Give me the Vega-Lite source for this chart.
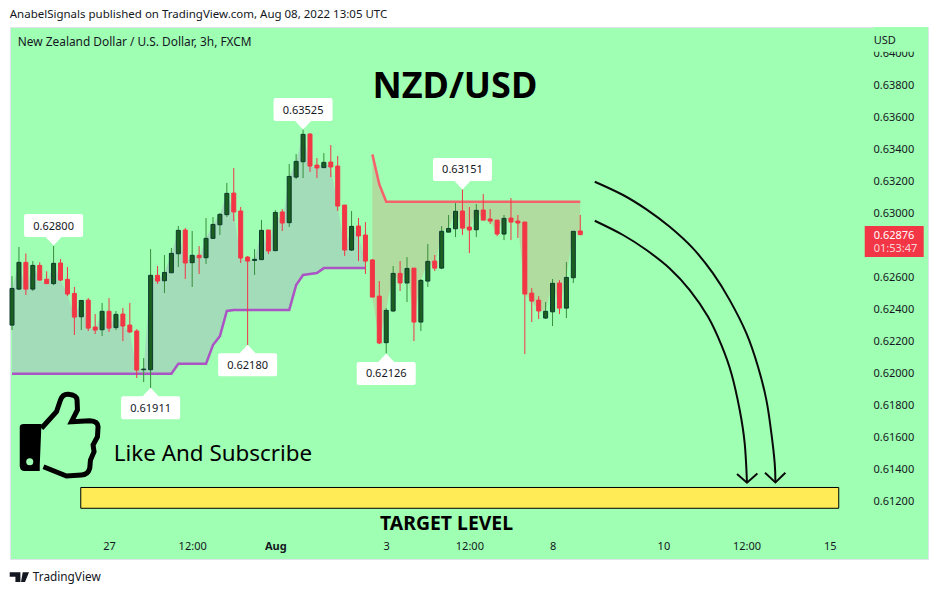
{"$schema":"https://vega.github.io/schema/vega-lite/v6.json","width":918,"height":532,"autosize":"none","padding":{"left":10,"top":27,"right":10,"bottom":36},"background":"#ffffff","view":{"fill":"#9fffb3","stroke":"#dfe3ea"},"config":{"axis":{"title":null},"text":{"font":"Noto Sans"}},
"datasets":{"candles":[
{"i":-14,"dir":"up","top":0.62532,"bot":0.62303,"high":0.62609,"low":0.62272,"close":0.62532,"sup":0.61999},
{"i":-13,"dir":"up","top":0.62695,"bot":0.62528,"high":0.62791,"low":0.62522,"close":0.62695,"sup":0.61999},
{"i":-12,"dir":"down","top":0.62695,"bot":0.62528,"high":0.62751,"low":0.62491,"close":0.62528,"sup":0.61999},
{"i":-11,"dir":"up","top":0.62676,"bot":0.62528,"high":0.62703,"low":0.62516,"close":0.62676,"sup":0.61999},
{"i":-10,"dir":"down","top":0.62676,"bot":0.62584,"high":0.62695,"low":0.62584,"close":0.62584,"sup":0.61999},
{"i":-9,"dir":"down","top":0.62589,"bot":0.62562,"high":0.62639,"low":0.62562,"close":0.62562,"sup":0.61999},
{"i":-8,"dir":"up","top":0.62689,"bot":0.62562,"high":0.62797,"low":0.62553,"close":0.62689,"sup":0.61999},
{"i":-7,"dir":"down","top":0.62691,"bot":0.62584,"high":0.62716,"low":0.62578,"close":0.62584,"sup":0.61999},
{"i":-6,"dir":"down","top":0.62589,"bot":0.62497,"high":0.62666,"low":0.62484,"close":0.62497,"sup":0.61999},
{"i":-5,"dir":"down","top":0.62501,"bot":0.62353,"high":0.62541,"low":0.62241,"close":0.62353,"sup":0.61999},
{"i":-4,"dir":"up","top":0.62457,"bot":0.62355,"high":0.62457,"low":0.62272,"close":0.62457,"sup":0.61999},
{"i":-3,"dir":"down","top":0.62459,"bot":0.62284,"high":0.62472,"low":0.62266,"close":0.62284,"sup":0.61999},
{"i":-2,"dir":"down","top":0.62291,"bot":0.62272,"high":0.62372,"low":0.62247,"close":0.62272,"sup":0.61999},
{"i":-1,"dir":"up","top":0.62389,"bot":0.62274,"high":0.62441,"low":0.62234,"close":0.62389,"sup":0.61999},
{"i":0,"dir":"down","top":0.62389,"bot":0.62284,"high":0.62472,"low":0.6226,"close":0.62284,"sup":0.61999},
{"i":1,"dir":"up","top":0.6237,"bot":0.62287,"high":0.62391,"low":0.62272,"close":0.6237,"sup":0.61999},
{"i":2,"dir":"down","top":0.62372,"bot":0.62297,"high":0.6241,"low":0.62203,"close":0.62297,"sup":0.61999},
{"i":3,"dir":"down","top":0.62303,"bot":0.6226,"high":0.62441,"low":0.62253,"close":0.6226,"sup":0.61999},
{"i":4,"dir":"down","top":0.62266,"bot":0.62022,"high":0.62278,"low":0.61972,"close":0.62022,"sup":0.61999},
{"i":5,"dir":"up","top":0.62028,"bot":0.62024,"high":0.62097,"low":0.61947,"close":0.62028,"sup":0.61999},
{"i":6,"dir":"up","top":0.62614,"bot":0.62024,"high":0.62778,"low":0.6191,"close":0.62614,"sup":0.61999},
{"i":7,"dir":"down","top":0.62614,"bot":0.62578,"high":0.62672,"low":0.6256,"close":0.62578,"sup":0.61999},
{"i":8,"dir":"up","top":0.62632,"bot":0.6258,"high":0.62741,"low":0.62503,"close":0.62632,"sup":0.61999},
{"i":9,"dir":"up","top":0.62751,"bot":0.6263,"high":0.62785,"low":0.6263,"close":0.62751,"sup":0.61999},
{"i":10,"dir":"up","top":0.62895,"bot":0.62749,"high":0.62922,"low":0.62666,"close":0.62895,"sup":0.62061},
{"i":11,"dir":"down","top":0.62897,"bot":0.62691,"high":0.6291,"low":0.62591,"close":0.62691,"sup":0.62061},
{"i":12,"dir":"up","top":0.62739,"bot":0.62693,"high":0.62891,"low":0.62541,"close":0.62739,"sup":0.62061},
{"i":13,"dir":"down","top":0.62739,"bot":0.62724,"high":0.62797,"low":0.62622,"close":0.62724,"sup":0.62061},
{"i":14,"dir":"up","top":0.62845,"bot":0.62724,"high":0.62972,"low":0.62685,"close":0.62845,"sup":0.62061},
{"i":15,"dir":"up","top":0.62932,"bot":0.62845,"high":0.62978,"low":0.62841,"close":0.62932,"sup":0.62178},
{"i":16,"dir":"up","top":0.62995,"bot":0.6293,"high":0.63003,"low":0.62866,"close":0.62995,"sup":0.62234},
{"i":17,"dir":"up","top":0.63126,"bot":0.62993,"high":0.63191,"low":0.62978,"close":0.63126,"sup":0.62391},
{"i":18,"dir":"down","top":0.63128,"bot":0.6301,"high":0.63285,"low":0.62953,"close":0.6301,"sup":0.62397},
{"i":19,"dir":"down","top":0.63016,"bot":0.62722,"high":0.63041,"low":0.62691,"close":0.62722,"sup":0.62397},
{"i":20,"dir":"down","top":0.62728,"bot":0.62703,"high":0.62735,"low":0.62178,"close":0.62703,"sup":0.62397},
{"i":21,"dir":"up","top":0.62714,"bot":0.62707,"high":0.62778,"low":0.62616,"close":0.62714,"sup":0.62397},
{"i":22,"dir":"up","top":0.62895,"bot":0.62712,"high":0.6296,"low":0.6271,"close":0.62895,"sup":0.62397},
{"i":23,"dir":"down","top":0.62897,"bot":0.62766,"high":0.62897,"low":0.62747,"close":0.62766,"sup":0.62397},
{"i":24,"dir":"up","top":0.63007,"bot":0.62768,"high":0.63022,"low":0.62766,"close":0.63007,"sup":0.62397},
{"i":25,"dir":"down","top":0.6301,"bot":0.62941,"high":0.63028,"low":0.62891,"close":0.62941,"sup":0.62397},
{"i":26,"dir":"up","top":0.63232,"bot":0.62943,"high":0.6331,"low":0.62916,"close":0.63232,"sup":0.62397},
{"i":27,"dir":"up","top":0.63326,"bot":0.63228,"high":0.63372,"low":0.63216,"close":0.63326,"sup":0.62553},
{"i":28,"dir":"up","top":0.63495,"bot":0.63324,"high":0.63525,"low":0.63222,"close":0.63495,"sup":0.62616},
{"i":29,"dir":"down","top":0.63497,"bot":0.63297,"high":0.63503,"low":0.6326,"close":0.63297,"sup":0.62622},
{"i":30,"dir":"down","top":0.63303,"bot":0.63285,"high":0.63347,"low":0.63222,"close":0.63285,"sup":0.62628},
{"i":31,"dir":"up","top":0.6332,"bot":0.63287,"high":0.63378,"low":0.63285,"close":0.6332,"sup":0.62659},
{"i":32,"dir":"down","top":0.63322,"bot":0.63291,"high":0.63428,"low":0.63228,"close":0.63291,"sup":0.62659},
{"i":33,"dir":"down","top":0.63297,"bot":0.63047,"high":0.6336,"low":0.63016,"close":0.63047,"sup":0.62659},
{"i":34,"dir":"down","top":0.63053,"bot":0.62772,"high":0.63053,"low":0.62735,"close":0.62772,"sup":0.62659},
{"i":35,"dir":"up","top":0.6292,"bot":0.62772,"high":0.63016,"low":0.62766,"close":0.6292,"sup":0.62659},
{"i":36,"dir":"down","top":0.62922,"bot":0.6286,"high":0.62972,"low":0.62703,"close":0.6286,"sup":0.62659},
{"i":37,"dir":"down","top":0.62866,"bot":0.62703,"high":0.62947,"low":0.62622,"close":0.62703,"sup":0.62659},
{"i":38,"dir":"down","top":0.6271,"bot":0.62478,"high":0.62716,"low":0.62478,"close":0.62478,"res":0.6337},
{"i":39,"dir":"down","top":0.62484,"bot":0.62191,"high":0.62578,"low":0.62184,"close":0.62191,"res":0.63183},
{"i":40,"dir":"up","top":0.62395,"bot":0.62193,"high":0.62409,"low":0.62126,"close":0.62395,"res":0.63074},
{"i":41,"dir":"up","top":0.62626,"bot":0.62391,"high":0.62672,"low":0.62384,"close":0.62626,"res":0.63074},
{"i":42,"dir":"down","top":0.62626,"bot":0.62566,"high":0.62703,"low":0.62516,"close":0.62566,"res":0.63074},
{"i":43,"dir":"up","top":0.62657,"bot":0.62566,"high":0.62728,"low":0.62447,"close":0.62657,"res":0.63074},
{"i":44,"dir":"down","top":0.62659,"bot":0.62322,"high":0.62659,"low":0.62203,"close":0.62322,"res":0.63074},
{"i":45,"dir":"up","top":0.62582,"bot":0.62322,"high":0.62591,"low":0.62266,"close":0.62582,"res":0.63074},
{"i":46,"dir":"up","top":0.62701,"bot":0.62578,"high":0.62809,"low":0.62541,"close":0.62701,"res":0.63074},
{"i":47,"dir":"down","top":0.62703,"bot":0.62659,"high":0.62741,"low":0.62641,"close":0.62659,"res":0.63074},
{"i":48,"dir":"up","top":0.62889,"bot":0.62659,"high":0.62922,"low":0.62653,"close":0.62889,"res":0.63074},
{"i":49,"dir":"up","top":0.62907,"bot":0.62884,"high":0.62991,"low":0.62884,"close":0.62907,"res":0.63074},
{"i":50,"dir":"up","top":0.63014,"bot":0.62905,"high":0.63066,"low":0.62853,"close":0.63014,"res":0.63074},
{"i":51,"dir":"down","top":0.63016,"bot":0.62909,"high":0.63151,"low":0.62866,"close":0.62909,"res":0.63074},
{"i":52,"dir":"down","top":0.62916,"bot":0.62897,"high":0.63041,"low":0.62753,"close":0.62897,"res":0.63074},
{"i":53,"dir":"up","top":0.6302,"bot":0.62899,"high":0.63059,"low":0.62853,"close":0.6302,"res":0.63074},
{"i":54,"dir":"down","top":0.63022,"bot":0.62959,"high":0.63122,"low":0.62959,"close":0.62959,"res":0.63074},
{"i":55,"dir":"down","top":0.62966,"bot":0.62953,"high":0.63028,"low":0.62934,"close":0.62953,"res":0.63074},
{"i":56,"dir":"down","top":0.62959,"bot":0.62872,"high":0.62959,"low":0.62859,"close":0.62872,"res":0.63074},
{"i":57,"dir":"up","top":0.6297,"bot":0.62872,"high":0.62991,"low":0.62834,"close":0.6297,"res":0.63074},
{"i":58,"dir":"down","top":0.62972,"bot":0.62947,"high":0.63097,"low":0.62834,"close":0.62947,"res":0.63074},
{"i":59,"dir":"down","top":0.62953,"bot":0.62941,"high":0.62991,"low":0.62847,"close":0.62941,"res":0.63074},
{"i":60,"dir":"down","top":0.62947,"bot":0.62497,"high":0.62947,"low":0.62122,"close":0.62497,"res":0.63074},
{"i":61,"dir":"down","top":0.62503,"bot":0.62453,"high":0.62534,"low":0.62322,"close":0.62453,"res":0.63074},
{"i":62,"dir":"down","top":0.62459,"bot":0.62391,"high":0.62484,"low":0.62341,"close":0.62391,"res":0.63074},
{"i":63,"dir":"up","top":0.62389,"bot":0.62347,"high":0.62447,"low":0.62341,"close":0.62389,"res":0.63074},
{"i":64,"dir":"up","top":0.62564,"bot":0.62386,"high":0.62591,"low":0.62297,"close":0.62564,"res":0.63074},
{"i":65,"dir":"down","top":0.62566,"bot":0.62409,"high":0.62584,"low":0.62372,"close":0.62409,"res":0.63074},
{"i":66,"dir":"up","top":0.62601,"bot":0.62409,"high":0.62697,"low":0.62347,"close":0.62601,"res":0.63074},
{"i":67,"dir":"up","top":0.62889,"bot":0.62599,"high":0.62889,"low":0.62566,"close":0.62889,"res":0.63074},
{"i":68,"dir":"down","top":0.62891,"bot":0.62868,"high":0.62991,"low":0.62868,"close":0.62876,"res":0.63074}],
"callouts":[
{"i":-8,"p":0.628,"label":"0.62800","side":"above"},
{"i":28,"p":0.63525,"label":"0.63525","side":"above"},
{"i":51,"p":0.63151,"label":"0.63151","side":"above"},
{"i":6,"p":0.61911,"label":"0.61911","side":"below"},
{"i":20,"p":0.6218,"label":"0.62180","side":"below"},
{"i":40,"p":0.62126,"label":"0.62126","side":"below"}],
"arrows":[
{"g":"a","n":0,"i":70.09,"p":0.63199},{"g":"a","n":1,"i":74.17,"p":0.63116},{"g":"a","n":2,"i":77.55,"p":0.63026},{"g":"a","n":3,"i":80.91,"p":0.62917},{"g":"a","n":4,"i":84.27,"p":0.62782},{"g":"a","n":5,"i":87.16,"p":0.62626},{"g":"a","n":6,"i":89.57,"p":0.62459},{"g":"a","n":7,"i":91.98,"p":0.62251},{"g":"a","n":8,"i":93.65,"p":0.62043},{"g":"a","n":9,"i":94.86,"p":0.61834},{"g":"a","n":10,"i":95.58,"p":0.61626},{"g":"a","n":11,"i":96.06,"p":0.61439},{"g":"a","n":12,"i":96.16,"p":0.6132},
{"g":"b","n":0,"i":70.09,"p":0.62955},{"g":"b","n":1,"i":74.17,"p":0.62866},{"g":"b","n":2,"i":77.55,"p":0.62772},{"g":"b","n":3,"i":80.91,"p":0.62657},{"g":"b","n":4,"i":83.8,"p":0.62522},{"g":"b","n":5,"i":86.44,"p":0.62355},{"g":"b","n":6,"i":88.37,"p":0.62178},{"g":"b","n":7,"i":89.81,"p":0.62001},{"g":"b","n":8,"i":91.01,"p":0.61772},{"g":"b","n":9,"i":91.73,"p":0.61564},{"g":"b","n":10,"i":92.06,"p":0.61318}],
"heads":[
{"g":"a","n":0,"i":94.66,"p":0.6138},{"g":"a","n":1,"i":96.16,"p":0.6132},{"g":"a","n":2,"i":97.6,"p":0.6138},
{"g":"b","n":0,"i":90.62,"p":0.61372},{"g":"b","n":1,"i":92.06,"p":0.61318},{"g":"b","n":2,"i":93.56,"p":0.61376}]},
"encoding":{
"x":{"field":"i","type":"quantitative","scale":{"domain":[-14.29,118.18],"nice":false,"zero":false,"padding":0},"axis":{"orient":"bottom","values":[0,12,24,40,52,64,80,92,104],"labelExpr":"['27','12:00','Aug','3','12:00','8','10','12:00','15'][indexof([0,12,24,40,52,64,80,92,104],datum.value)]","labelFontWeight":{"condition":{"test":"datum.value==24","value":"bold"},"value":"normal"},"domain":false,"ticks":false,"grid":false,"offset":-19,"labelPadding":0,"labelFont":"Noto Sans","labelFontSize":11,"labelColor":"#131722"}},
"y":{"field":"p","type":"quantitative","scale":{"domain":[0.60841,0.64166],"nice":false,"zero":false},"axis":{"orient":"right","values":[0.612,0.614,0.616,0.618,0.62,0.622,0.624,0.626,0.63,0.632,0.634,0.636,0.638,0.64],"format":".5f","domain":false,"ticks":false,"grid":false,"offset":-55,"labelPadding":0,"labelFont":"Noto Sans","labelFontSize":11,"labelColor":"#131722"}}},
"layer":[
{"data":{"name":"candles"},"transform":[{"filter":"isValid(datum.sup)"}],"mark":{"type":"area","fill":"#a3dcb9","opacity":1},"encoding":{"y":{"field":"close","type":"quantitative","scale":{"domain":[0.60841,0.64166],"nice":false,"zero":false}},"y2":{"field":"sup"}}},
{"data":{"name":"candles"},"transform":[{"filter":"isValid(datum.res)"}],"mark":{"type":"area","fill":"#b0dd9f","opacity":1},"encoding":{"y":{"field":"close","type":"quantitative","scale":{"domain":[0.60841,0.64166],"nice":false,"zero":false}},"y2":{"field":"res"}}},
{"data":{"name":"candles"},"transform":[{"filter":"isValid(datum.sup)"}],"mark":{"type":"line","stroke":"#ab55c4","strokeWidth":2.5},"encoding":{"y":{"field":"sup","type":"quantitative","scale":{"domain":[0.60841,0.64166],"nice":false,"zero":false}}}},
{"data":{"name":"candles"},"transform":[{"filter":"isValid(datum.res)"}],"mark":{"type":"line","stroke":"#f5626c","strokeWidth":2.5},"encoding":{"y":{"field":"res","type":"quantitative","scale":{"domain":[0.60841,0.64166],"nice":false,"zero":false}}}},
{"data":{"name":"candles"},"mark":{"type":"rule","strokeWidth":1},"encoding":{"y":{"field":"high","type":"quantitative","scale":{"domain":[0.60841,0.64166],"nice":false,"zero":false}},"y2":{"field":"low"},"color":{"field":"dir","type":"nominal","scale":{"domain":["up","down"],"range":["#388e3c","#f23645"]},"legend":null}}},
{"data":{"name":"candles"},"mark":{"type":"bar","size":4,"strokeWidth":1,"orient":"vertical"},"encoding":{"y":{"field":"top","type":"quantitative","scale":{"domain":[0.60841,0.64166],"nice":false,"zero":false}},"y2":{"field":"bot"},"fill":{"field":"dir","type":"nominal","scale":{"domain":["up","down"],"range":["#1b5e20","#f23645"]},"legend":null},"stroke":{"field":"dir","type":"nominal","scale":{"domain":["up","down"],"range":["#0c3b2e","#f23645"]},"legend":null}}},
{"data":{"name":"callouts"},"transform":[{"filter":"datum.side=='above'"}],"mark":{"type":"point","filled":true,"fill":"#ffffff","opacity":1,"size":4,"shape":"M0,0 L-8,-8.5 H-27.5 Q-29.5,-8.5 -29.5,-10.5 V-29.5 Q-29.5,-31.5 -27.5,-31.5 H27.5 Q29.5,-31.5 29.5,-29.5 V-10.5 Q29.5,-8.5 27.5,-8.5 H8 Z"}},
{"data":{"name":"callouts"},"transform":[{"filter":"datum.side=='below'"}],"mark":{"type":"point","filled":true,"fill":"#ffffff","opacity":1,"size":4,"shape":"M0,0 L8,8.5 H27.5 Q29.5,8.5 29.5,10.5 V29.5 Q29.5,31.5 27.5,31.5 H-27.5 Q-29.5,31.5 -29.5,29.5 V10.5 Q-29.5,8.5 -27.5,8.5 H-8 Z"}},
{"data":{"name":"callouts"},"transform":[{"filter":"datum.side=='above'"}],"mark":{"type":"text","dy":-19,"fontSize":11,"fill":"#131722"},"encoding":{"text":{"field":"label"}}},
{"data":{"name":"callouts"},"transform":[{"filter":"datum.side=='below'"}],"mark":{"type":"text","dy":21,"fontSize":11,"fill":"#131722"},"encoding":{"text":{"field":"label"}}},
{"data":{"values":[{"i":-4.08,"i2":105.3,"p":0.61288,"p2":0.61158}]},"mark":{"type":"rect","fill":"#ffeb56","stroke":"#000000","strokeWidth":1},"encoding":{"x2":{"field":"i2"},"y2":{"field":"p2"}}},
{"data":{"name":"arrows"},"mark":{"type":"line","stroke":"#0a0a0a","strokeWidth":2,"interpolate":"cardinal"},"encoding":{"detail":{"field":"g"},"order":{"field":"n"}}},
{"data":{"name":"heads"},"mark":{"type":"line","stroke":"#0a0a0a","strokeWidth":2},"encoding":{"detail":{"field":"g"},"order":{"field":"n"}}},
{"data":{"values":[{"i":109.05,"i2":117.56,"p":0.62922,"p2":0.62728}]},"mark":{"type":"rect","fill":"#f23645"},"encoding":{"x2":{"field":"i2"},"y2":{"field":"p2"}}},
{"data":{"values":[{"i":110.34,"i2":118.18,"p":0.64166,"p2":0.64012}]},"mark":{"type":"rect","fill":"#9fffb3"},"encoding":{"x2":{"field":"i2"},"y2":{"field":"p2"}}},
{"data":{"values":[{"i":110.34,"p":0.62866,"t":"0.62876"}]},"mark":{"type":"text","align":"left","dy":1,"fontSize":11,"fill":"#ffffff"},"encoding":{"text":{"field":"t"}}},
{"data":{"values":[{"i":110.34,"p":0.6278,"t":"01:53:47"}]},"mark":{"type":"text","align":"left","fontSize":11,"fill":"#fbd5d8"},"encoding":{"text":{"field":"t"}}},
{"data":{"values":[{"i":110.34,"p":0.64084,"t":"USD"}]},"mark":{"type":"text","align":"left","dy":1,"fontSize":11,"fill":"#131722"},"encoding":{"text":{"field":"t"}}},
{"data":{"values":[{"i":-14.33,"p":0.64247,"t":"AnabelSignals published on TradingView.com, Aug 08, 2022 13:05 UTC"}]},"mark":{"type":"text","align":"left","dy":1,"fontSize":11.5,"fill":"#131722"},"encoding":{"text":{"field":"t"}}},
{"data":{"values":[{"i":-13.17,"p":0.64078,"t":"New Zealand Dollar / U.S. Dollar, 3h, FXCM"}]},"mark":{"type":"text","align":"left","dy":1,"fontSize":11.9,"fill":"#131722"},"encoding":{"text":{"field":"t"}}},
{"data":{"values":[{"i":49.9,"p":0.63803,"t":"NZD/USD"}]},"mark":{"type":"text","align":"center","dy":2,"fontSize":36,"fontWeight":"bold","fill":"#000000"},"encoding":{"text":{"field":"t"}}},
{"data":{"values":[{"i":0.68,"p":0.6151,"t":"Like And Subscribe"}]},"mark":{"type":"text","align":"left","dy":2,"fontSize":22.4,"fill":"#000000"},"encoding":{"text":{"field":"t"}}},
{"data":{"values":[{"i":48.7,"p":0.61072,"t":"TARGET LEVEL"}]},"mark":{"type":"text","align":"center","dy":2,"fontSize":19.4,"fontWeight":"bold","fill":"#000000"},"encoding":{"text":{"field":"t"}}},
{"data":{"values":[{"i":-11,"p":0.60728,"t":"TradingView"}]},"mark":{"type":"text","align":"left","fontSize":11.8,"fill":"#131722"},"encoding":{"text":{"field":"t"}}},
{"data":{"values":[{"i":-12.96,"p":0.60716}]},"mark":{"type":"point","filled":true,"fill":"#131722","opacity":1,"size":4,"shape":"M-9.5,-6.7 H1.2 V3 H-3.8 V-2.3 H-9.5 Z M3.5,-6.7 H9.8 L5.8,3 H1.8 Z"}},
{"data":{"values":[{"i":-7.11,"p":0.61616}]},"mark":{"type":"point","filled":true,"fill":"#000000","opacity":1,"size":4,"shape":"M-40,-8 Q-40,-11 -36,-11 H-18.3 L-20,30 V36 L-35,36 Q-40,36 -40,31 Z"}},
{"data":{"values":[{"i":-7.11,"p":0.61616}]},"mark":{"type":"point","filled":false,"fill":"transparent","stroke":"#000000","strokeWidth":5,"opacity":1,"size":4,"shape":"M-18.3,-6.7 L-3.3,-23.3 L0.7,-35 Q3,-41 8.3,-40.7 Q17,-40 17.3,-35 L17.7,-25 L11.7,-13.3 L30,-14.3 Q38,-14 38.3,-8.3 L37.7,1.7 L33.3,10 L34.3,16.7 L30.7,25 L30,33.3 Q28,40 21.7,40 L6.7,41 L-16.3,31.7"}},
{"data":{"values":[{"i":-11.44,"p":0.61449}]},"mark":{"type":"point","filled":true,"fill":"#9fffb3","opacity":1,"size":50,"shape":"circle"}}
]}
